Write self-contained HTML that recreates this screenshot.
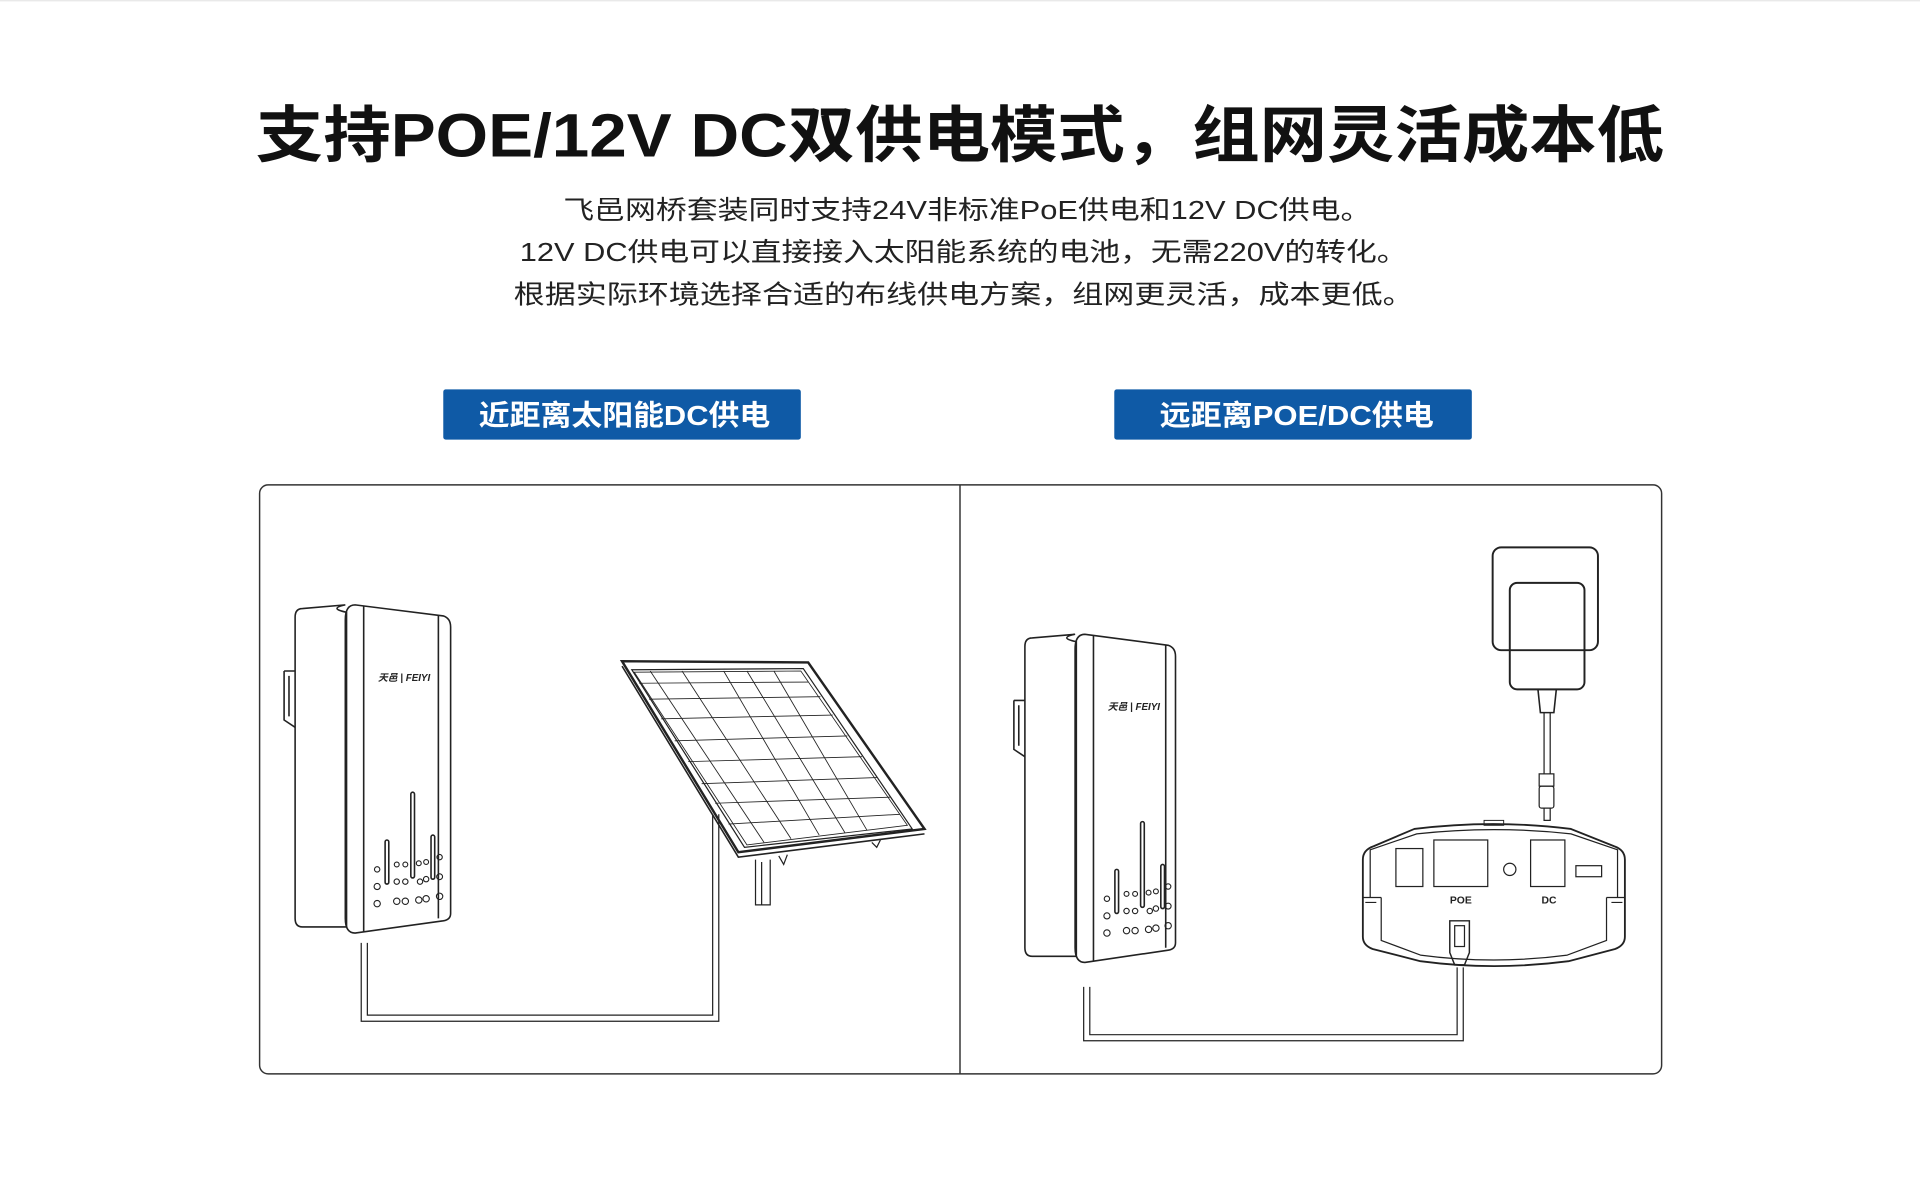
<!DOCTYPE html>
<html><head><meta charset="utf-8"><style>
html,body{margin:0;padding:0;background:#fff;}
svg{display:block}
text{font-family:"Liberation Sans","Noto Sans CJK SC",sans-serif;}
</style></head><body>
<svg width="1920" height="1193" viewBox="0 0 1568 974.3" xmlns="http://www.w3.org/2000/svg">
<line x1="0" y1="0.6" x2="1568" y2="0.6" stroke="#e6e6e6" stroke-width="1"/>
<text x="784" y="128" text-anchor="middle" font-size="50" font-weight="bold" fill="#111" textLength="1150" lengthAdjust="spacingAndGlyphs">支持POE/12V DC双供电模式，组网灵活成本低</text>
<g font-size="21.5" fill="#222" text-anchor="middle">
<text x="790" y="179" textLength="660" lengthAdjust="spacingAndGlyphs">飞邑网桥套装同时支持24V非标准PoE供电和12V DC供电。</text>
<text x="787" y="213" textLength="725" lengthAdjust="spacingAndGlyphs">12V DC供电可以直接接入太阳能系统的电池，无需220V的转化。</text>
<text x="787" y="248" textLength="735" lengthAdjust="spacingAndGlyphs">根据实际环境选择合适的布线供电方案，组网更灵活，成本更低。</text>
</g>
<rect x="362" y="318" width="292" height="41" rx="2" fill="#0f5aa6"/>
<rect x="910" y="318" width="292" height="41" rx="2" fill="#0f5aa6"/>
<g font-size="23" fill="#fff" text-anchor="middle" font-weight="bold">
<text x="510" y="347" textLength="238" lengthAdjust="spacingAndGlyphs">近距离太阳能DC供电</text>
<text x="1059" y="347" textLength="224" lengthAdjust="spacingAndGlyphs">远距离POE/DC供电</text>
</g>
<rect x="212" y="396" width="1145" height="481" rx="7" fill="none" stroke="#333" stroke-width="1.2"/>
<line x1="784" y1="396" x2="784" y2="877" stroke="#333" stroke-width="1.2"/>

<g fill="none" stroke="#222" stroke-width="1.3">
<!-- left device -->
<g id="dev">
<path d="M232 548 L241 548 M232 548 L232 588 L241 594 M236 552 L236 585"/>
<path d="M247 497 L282 494 Q268 497 283 500 L283 757 L247 757 Q241 757 241 750 L241 504 Q241 497 247 497 Z"/>
<path d="M290 494 L362 503 Q368 505 368 512 L368 746 Q368 751 362 752 L290 762 Q282 762 282 750 L282 506 Q282 494 290 494 Z"/>
<path d="M297 495 L297 761 M358 503 L358 750"/>
<rect x="314.5" y="686" width="3" height="36" rx="1.5"/>
<rect x="335.5" y="647" width="3" height="70" rx="1.5"/>
<rect x="352" y="682" width="3" height="36" rx="1.5"/>
<g stroke-width="0.9">
<circle cx="308" cy="710" r="2.2"/><circle cx="308" cy="724" r="2.5"/><circle cx="308" cy="738" r="2.6"/>
<circle cx="324" cy="706" r="2"/><circle cx="331" cy="706" r="2"/><circle cx="324" cy="720" r="2.2"/><circle cx="331" cy="720" r="2.2"/>
<circle cx="324" cy="736" r="2.6"/><circle cx="331" cy="736" r="2.6"/>
<circle cx="342" cy="705" r="2"/><circle cx="348" cy="704" r="2"/><circle cx="343" cy="720" r="2.2"/><circle cx="348" cy="718" r="2.2"/>
<circle cx="342" cy="735" r="2.6"/><circle cx="348" cy="734" r="2.6"/>
<circle cx="359" cy="700" r="2.2"/><circle cx="359" cy="716" r="2.4"/><circle cx="359" cy="732" r="2.6"/>
</g>
</g>
<!-- left cable -->
<path d="M295 770 L295 834 L587 834 L587 665 M300 770 L300 829 L582 829 L582 665" stroke-width="1"/>
<!-- solar panel -->
<path d="M508 540 L660 541 L755 677 L603 696 Z" stroke-width="2"/>
<path d="M508 544 L603 700 L755 681" stroke-width="1.3"/>
<path d="M516 547 L656 546 L745 677 L608 692 Z" stroke-width="1"/>
<g stroke-width="0.7">
<path d="M518 549 L654 548 L741 674 L610 690 Z"/>
<line x1="531" y1="548" x2="624" y2="688"/><line x1="557" y1="548" x2="646" y2="685"/>
<line x1="591" y1="548" x2="669" y2="682"/><line x1="610" y1="548" x2="690" y2="680"/>
<line x1="632" y1="548" x2="708" y2="678"/>
<line x1="522" y1="558" x2="660" y2="557"/><line x1="530" y1="571" x2="670" y2="569"/>
<line x1="540" y1="587" x2="680" y2="584"/><line x1="551" y1="605" x2="692" y2="601"/>
<line x1="562" y1="622" x2="704" y2="618"/><line x1="573" y1="640" x2="716" y2="635"/>
<line x1="584" y1="656" x2="727" y2="651"/><line x1="595" y1="673" x2="735" y2="665"/>
</g>
<path d="M617 702 L617 739 L629 739 L629 702 M622 704 L622 739" stroke-width="1"/>
<path d="M636 699 L640 706 L643 698 M712 688 L716 692 L719 686" stroke-width="1"/>

<!-- right device -->
<g transform="translate(596,24)">
<path d="M232 548 L241 548 M232 548 L232 588 L241 594 M236 552 L236 585"/>
<path d="M247 497 L282 494 Q268 497 283 500 L283 757 L247 757 Q241 757 241 750 L241 504 Q241 497 247 497 Z"/>
<path d="M290 494 L358 503 Q364 505 364 512 L364 746 Q364 751 358 752 L290 762 Q282 762 282 750 L282 506 Q282 494 290 494 Z"/>
<path d="M297 495 L297 761 M356 503 L356 750"/>
<rect x="314.5" y="686" width="3" height="36" rx="1.5"/>
<rect x="335.5" y="647" width="3" height="70" rx="1.5"/>
<rect x="352" y="682" width="3" height="36" rx="1.5"/>
<g stroke-width="0.9">
<circle cx="308" cy="710" r="2.2"/><circle cx="308" cy="724" r="2.5"/><circle cx="308" cy="738" r="2.6"/>
<circle cx="324" cy="706" r="2"/><circle cx="331" cy="706" r="2"/><circle cx="324" cy="720" r="2.2"/><circle cx="331" cy="720" r="2.2"/>
<circle cx="324" cy="736" r="2.6"/><circle cx="331" cy="736" r="2.6"/>
<circle cx="342" cy="705" r="2"/><circle cx="348" cy="704" r="2"/><circle cx="343" cy="720" r="2.2"/><circle cx="348" cy="718" r="2.2"/>
<circle cx="342" cy="735" r="2.6"/><circle cx="348" cy="734" r="2.6"/>
<circle cx="358" cy="700" r="2.2"/><circle cx="358" cy="716" r="2.4"/><circle cx="358" cy="732" r="2.6"/>
</g>
</g>
<!-- right cable -->
<path d="M885 806 L885 850 L1195 850 L1195 790 M890 806 L890 845 L1190 845 L1190 790" stroke-width="1"/>
<!-- charger -->
<rect x="1219" y="447" width="86" height="84" rx="7" stroke-width="1.6"/>
<rect x="1233" y="476" width="61" height="87" rx="6" stroke-width="1.6"/>
<path d="M1256 563 L1258 582 L1269 582 L1271 563 Z" stroke-width="1.3"/>
<path d="M1261 582 L1261 632 M1266 582 L1266 632" stroke-width="1"/>
<rect x="1257" y="632" width="12" height="10" stroke-width="1"/>
<rect x="1257" y="642" width="12" height="18" rx="2" stroke-width="1"/>
<path d="M1261 660 L1261 670 L1266 670 L1266 660" stroke-width="1"/>
<!-- injector -->
<path d="M1122 691 L1155 677 Q1220 669 1283 677 L1318 691 Q1327 694 1327 702 L1327 765 Q1327 772 1319 775 L1281 785 Q1220 793 1160 785 L1121 775 Q1113 772 1113 765 L1113 702 Q1113 694 1122 691 Z" stroke-width="1.5"/>
<path d="M1119 733 L1119 694 L1157 681 Q1220 674 1283 681 L1321 694 L1321 733" stroke-width="1"/>
<path d="M1128 733 L1128 768 L1160 780 Q1220 788 1280 780 L1312 768 L1312 733" stroke-width="1"/>
<path d="M1113 733 L1128 733 M1312 733 L1327 733 M1115 737 L1124 737 M1316 737 L1325 737" stroke-width="1"/>
<rect x="1212" y="670" width="16" height="4" stroke-width="0.8"/>
<rect x="1140" y="693" width="22" height="31" stroke-width="1"/>
<rect x="1171" y="686" width="44" height="38" stroke-width="1"/>
<circle cx="1233" cy="710" r="5" stroke-width="1"/>
<rect x="1250" y="686" width="28" height="38" stroke-width="1"/>
<rect x="1287" y="707" width="21" height="9" stroke-width="1"/>
<path d="M1184 752 L1200 752 L1200 778 L1196 788 L1188 788 L1184 778 Z" stroke-width="1.2"/>
<rect x="1188" y="756" width="8" height="17" stroke-width="1"/>
</g>
<g font-weight="bold" fill="#222" text-anchor="middle">
<text x="1193" y="738" font-size="8.5">POE</text>
<text x="1265" y="738" font-size="8.5">DC</text>
<text x="330" y="556" font-size="8" font-style="italic">天邑 | FEIYI</text>
<text x="926" y="580" font-size="8" font-style="italic">天邑 | FEIYI</text>
</g>
</svg>
</body></html>
